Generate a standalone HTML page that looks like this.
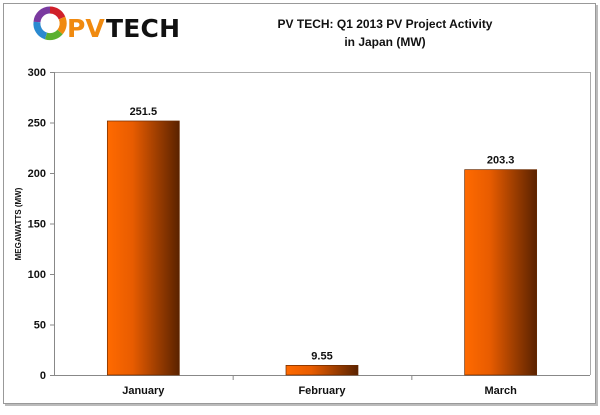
<!DOCTYPE html>
<html><head><meta charset="utf-8"><style>
html,body{margin:0;padding:0;background:#fff;}
body{width:600px;height:410px;position:relative;overflow:hidden;font-family:"Liberation Sans",Arial,sans-serif;}
</style></head><body>
<svg width="600" height="410" viewBox="0 0 600 410">
<defs>
<linearGradient id="barg" x1="0" x2="1" y1="0" y2="0">
<stop offset="0" stop-color="#ff6a00"/><stop offset="0.35" stop-color="#e85c00"/><stop offset="1" stop-color="#5a2200"/>
</linearGradient>
</defs>
<rect x="5" y="5" width="593" height="401" fill="#bbb"/>
<rect x="3.5" y="3.5" width="592" height="400" fill="#fff" stroke="#999" stroke-width="1"/>
<g>
<path d="M50 10 A13 13 0 0 1 62 18" fill="none" stroke="#d0202a" stroke-width="7"/>
<path d="M62 18 A13 13 0 0 1 60 32" fill="none" stroke="#f08a10" stroke-width="7"/>
<path d="M60 32 A13 13 0 0 1 46 36" fill="none" stroke="#5ab030" stroke-width="7"/>
<path d="M46 36 A13 13 0 0 1 37 22" fill="none" stroke="#2a8ad0" stroke-width="7"/>
<path d="M37 22 A13 13 0 0 1 50 10" fill="none" stroke="#7a3aa0" stroke-width="7"/>
<text x="67" y="37" font-size="25" font-weight="bold" fill="#f08a10" font-family="'DejaVu Sans',sans-serif">PV</text>
<text x="106" y="37" font-size="25" font-weight="bold" fill="#111" font-family="'DejaVu Sans',sans-serif" textLength="74">TECH</text>
</g>
<text x="385" y="28" font-size="12" font-weight="bold" text-anchor="middle" fill="#111">PV TECH: Q1 2013 PV Project Activity</text>
<text x="385" y="46" font-size="12" font-weight="bold" text-anchor="middle" fill="#111">in Japan (MW)</text>
<text transform="translate(21,224) rotate(-90)" font-size="8" font-weight="bold" text-anchor="middle" fill="#111">MEGAWATTS (MW)</text>
<g id="plot"></g>
</svg>
<script>
const categories = ["January","February","March"];
const values = [251.5, 9.55, 203.3];
const valueLabels = ["251.5","9.55","203.3"];
const yTicks = [0,50,100,150,200,250,300];

const X0=54, X1=590, Y0=375, Y1=72, YMAX=300;
const svgNS="http://www.w3.org/2000/svg";
const plotG=document.getElementById('plot');
function yScale(v){return Y0-(v/YMAX)*(Y0-Y1);}
const bandW=(X1-X0)/categories.length;
function xCenter(i){return X0+bandW*(i+0.5);}
function mk(tag,attrs){const e=document.createElementNS(svgNS,tag);for(const k in attrs)e.setAttribute(k,attrs[k]);plotG.appendChild(e);return e;}

const topBorder=mk('line',{x1:X0,x2:X1,y1:Y1+0.5,y2:Y1+0.5,stroke:'#aaa'});


const rightBorder=mk('line',{x1:X1+0.5,x2:X1+0.5,y1:Y1,y2:Y0,stroke:'#aaa'});


const yAxisLine=mk('line',{x1:X0+0.5,x2:X0+0.5,y1:Y1,y2:Y0,stroke:'#888'});


const xAxisLine=mk('line',{x1:X0,x2:X1,y1:Y0+0.5,y2:Y0+0.5,stroke:'#888'});



yTicks.forEach(t=>{
  const l=mk('line',{x1:X0-4,x2:X0,y1:yScale(t)+0.5,y2:yScale(t)+0.5,stroke:'#888'});
  
  
  const tx=mk('text',{x:X0-8,y:yScale(t)+4,'font-size':11,'font-weight':'bold','text-anchor':'end',fill:'#111'});
  tx.textContent=t;
  
  
});
for(let i=1;i<categories.length;i++){
  const l=mk('line',{x1:X0+bandW*i+0.5,x2:X0+bandW*i+0.5,y1:Y0,y2:Y0+5,stroke:'#888'});
  
  
}
categories.forEach((c,i)=>{
  const w=72;
  const b=mk('rect',{x:xCenter(i)-w/2,y:yScale(values[i]),width:w,height:Y0-yScale(values[i]),fill:'url(#barg)',stroke:'#6a2a00','stroke-width':0.7});
  
  
  const vl=mk('text',{x:xCenter(i),y:yScale(values[i])-6,'font-size':11,'font-weight':'bold','text-anchor':'middle',fill:'#111'});
  vl.textContent=valueLabels[i];
  
  
  const cl=mk('text',{x:xCenter(i),y:Y0+19,'font-size':11,'font-weight':'bold','text-anchor':'middle',fill:'#111'});
  cl.textContent=c;
  
  
});
</script>
</body></html>
